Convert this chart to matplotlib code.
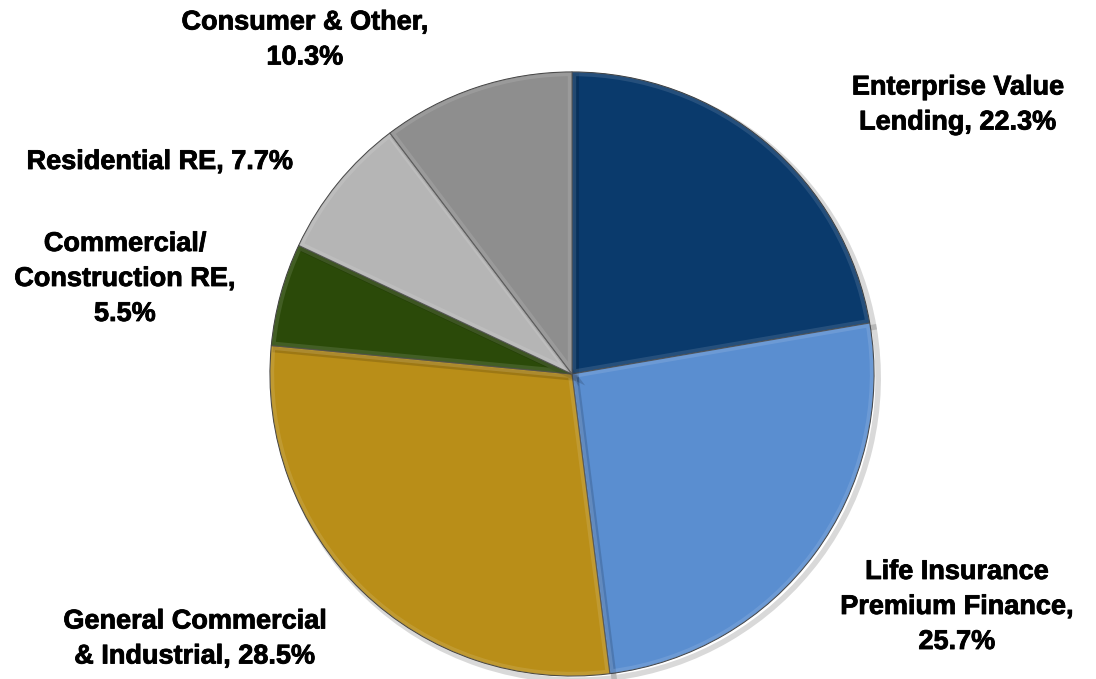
import matplotlib.pyplot as plt
import matplotlib.patheffects as pe
import matplotlib.colors as mcolors
from matplotlib.patches import Wedge

# Loan portfolio mix
categories = ['Enterprise Value\nLending', 'Life Insurance\nPremium Finance',
              'General Commercial\n& Industrial', 'Commercial/\nConstruction RE',
              'Residential RE', 'Consumer & Other']
shares = [22.3, 25.7, 28.5, 5.5, 7.7, 10.3]
colors = ['#0A3A6C', '#5A8ED0', '#B98E18', '#2B4A09', '#B5B5B5', '#8E8E8E']

plt.rcParams['font.family'] = ['Liberation Sans', 'DejaVu Sans']

fig = plt.figure(figsize=(10.96, 6.79), dpi=100)
ax = fig.add_axes([0, 0, 1, 1])

cx, cy, r = 572, 305, 302

wedges, _ = ax.pie(shares, colors=colors, startangle=90, counterclock=False,
                   center=(cx, cy), radius=r, frame=True,
                   wedgeprops=dict(edgecolor='#3a3a3a', linewidth=0.8))
for w, c in zip(wedges, colors):
    w.set_path_effects([pe.SimpleLineShadow(offset=(3, -3), alpha=0.15, linewidth=4),
                        pe.Normal()])
    # soft bevel rim inside each slice
    light = [min(1, v * 0.6 + 0.4) for v in mcolors.to_rgb(c)]
    rim = Wedge(w.center, w.r, w.theta1, w.theta2, facecolor='none',
                edgecolor=light, linewidth=6, alpha=0.28)
    ax.add_patch(rim)
    rim.set_clip_path(w)

ax.set_xlim(0, 1096)
ax.set_ylim(0, 679)
ax.set_aspect('equal')
ax.axis('off')

# label text, centred on each anchor (pixel coords)
label_pos = [(958, 574), (957, 72), (195, 40), (125, 400), (160, 517), (305, 639)]
label_txt = ['Enterprise Value\nLending, %.1f%%' % shares[0],
             'Life Insurance\nPremium Finance,\n%.1f%%' % shares[1],
             'General Commercial\n& Industrial, %.1f%%' % shares[2],
             'Commercial/\nConstruction RE,\n%.1f%%' % shares[3],
             'Residential RE, %.1f%%' % shares[4],
             'Consumer & Other,\n%.1f%%' % shares[5]]

for (x, y), t in zip(label_pos, label_txt):
    ax.text(x, y, t, ha='center', va='center', fontsize=19.5,
            fontweight='bold', color='black', linespacing=1.45,
            path_effects=[pe.withStroke(linewidth=0.6, foreground='black')])

fig.savefig('out.png', dpi=100)
